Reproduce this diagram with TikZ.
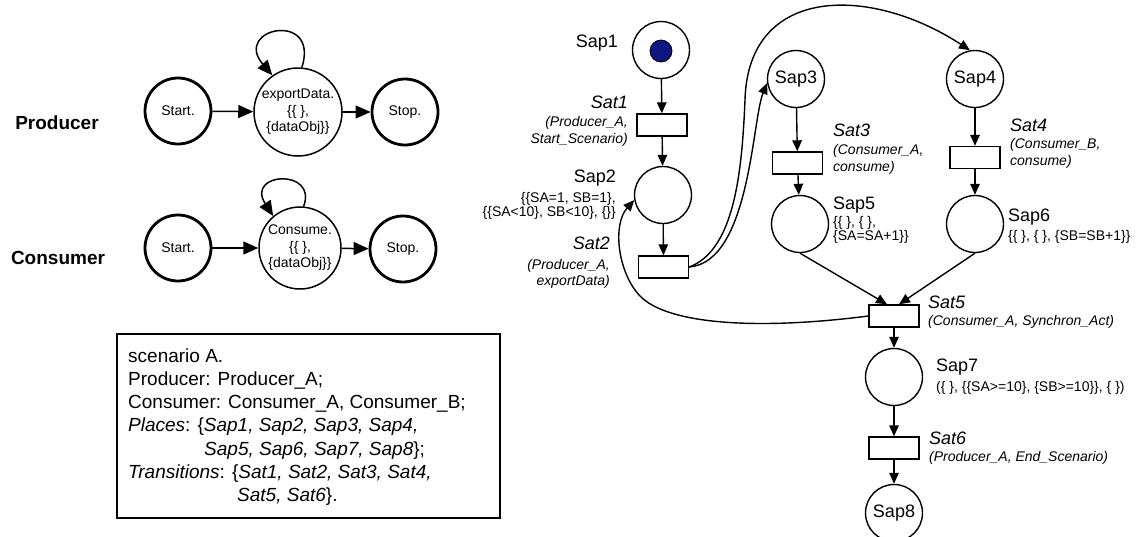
\documentclass[tikz,border=0pt]{standalone}
\usepackage{fontspec}
\setmainfont{Liberation Sans}
\usetikzlibrary{arrows.meta}
\newcommand{\fsz}[2]{\fontsize{#1pt}{#2pt}\selectfont}
\definecolor{tokenblue}{RGB}{14,22,130}
\tikzset{
  arr/.style={-{Triangle[length=11pt,width=9.5pt]}, line width=1.4pt},
  bigarr/.style={-{Triangle[length=15pt,width=13pt]}, line width=1.5pt},
  place/.style={circle, draw, line width=1.4pt, minimum size=57pt, inner sep=0pt, font=\fsz{18}{21}},
  trans/.style={rectangle, draw, line width=1.4pt, minimum width=50pt, minimum height=22pt, inner sep=0pt},
  tokenstyle/.style={circle, draw, fill=tokenblue, line width=0.8pt, minimum size=22pt, inner sep=0pt},
  thickstate/.style={circle, draw, line width=2.8pt, minimum size=66pt, inner sep=0pt, font=\fsz{14}{16}},
  midstate/.style={circle, draw, line width=1.5pt, inner sep=0pt, align=center, font=\fsz{14}{16.5}},
  rolelbl/.style={inner sep=0pt, font=\bfseries\fsz{19}{22}},
  lbl/.style={inner sep=0pt, font=\fsz{18}{21}},
  lbli/.style={inner sep=0pt, font=\itshape\fsz{18}{21}},
  cond/.style={inner sep=0pt, font=\fsz{14}{14}},
  condi/.style={inner sep=0pt, font=\itshape\fsz{14}{16.5}},
  boxtxt/.style={inner sep=0pt, align=left, font=\fsz{19}{23.3}}
}
\begin{document}
\begin{tikzpicture}[x=1pt,y=-1pt]
\useasboundingbox (0,0) rectangle (1136,536);

% ---------- left: producer / consumer automata ----------
\node[rolelbl] (prodlbl) at (57,123) {Producer};
\node[rolelbl] (conslbl) at (58,258) {Consumer};

\node[thickstate] (pstart) at (178,111) {Start.};
\node[midstate, minimum size=88pt] (pexp) at (298,112) {exportData.\\\{\{ \},\\\{dataObj\}\}};
\node[thickstate] (pstop) at (405,112) {Stop.};
\draw[bigarr] (pstart) -- (pexp);
\draw[bigarr] (pexp) -- (pstop);
\draw[bigarr] (pexp.85) .. controls (320,10) and (232,28) .. (pexp.125);

\node[thickstate] (cstart) at (178,248) {Start.};
\node[midstate, minimum size=82pt] (ccons) at (300,248) {Consume.\\\{\{ \},\\\{dataObj\}\}};
\node[thickstate] (cstop) at (403,249) {Stop.};
\draw[bigarr] (cstart) -- (ccons);
\draw[bigarr] (ccons) -- (cstop);
\draw[bigarr] (ccons.85) .. controls (318,168) and (245,172) .. (ccons.130);

% ---------- scenario box ----------
\draw[line width=1.6pt] (117,334) rectangle (500,518);
\node[boxtxt, anchor=west] (scen) at (128,427) {scenario A.\\
Producer: Producer\_A;\\
Consumer: Consumer\_A, Consumer\_B;\\
\textit{Places}: \{\textit{Sap1, Sap2, Sap3, Sap4,}\\
\hspace*{76pt}\textit{Sap5, Sap6, Sap7, Sap8}\};\\
\textit{Transitions}: \{\textit{Sat1, Sat2, Sat3, Sat4,}\\
\hspace*{109pt}\textit{Sat5, Sat6}\}.};

% ---------- Petri net ----------
\node[place] (sap1) at (661,50) {};
\node[tokenstyle] (tok) at (661,51) {};
\node[trans] (sat1) at (662,125) {};
\node[place] (sap2) at (663,195) {};
\node[trans] (sat2) at (663.5,267) {};
\node[place] (sap3) at (796,79) {Sap3};
\node[trans] (sat3) at (797.5,163) {};
\node[place] (sap5) at (800,224) {};
\node[place] (sap4) at (975,79) {Sap4};
\node[trans] (sat4) at (975,157.5) {};
\node[place] (sap6) at (975,224) {};
\node[trans] (sat5) at (894,316) {};
\node[place] (sap7) at (894,377) {};
\node[trans] (sat6) at (894,448) {};
\node[place] (sap8) at (894,513) {Sap8};

\draw[arr] (sap1) -- (sat1);
\draw[arr] (sat1) -- (sap2);
\draw[arr] (sap2) -- (sat2);
\draw[arr] (sap3) -- (sat3);
\draw[arr] (sat3) -- (sap5);
\draw[arr] (sap4) -- (sat4);
\draw[arr] (sat4) -- (sap6);
\draw[arr] (sap5.south) -- ([xshift=-7pt]sat5.north);
\draw[arr] (sap6.south) -- ([xshift=5pt]sat5.north);
\draw[arr] (sat5) -- (sap7);
\draw[arr] (sap7) -- (sat6);
\draw[arr] (sat6) -- (sap8);

\coordinate (via4) at (745,100);
\coordinate (via2) at (640,296);
\draw[arr] (sat2.east) .. controls (750,262) and (752,120) .. (sap3.188);
\draw[arr] (sat2.east) .. controls (735,250) and (742,170) .. (via4) .. controls (748,-15) and (870,-15) .. (sap4.100);
\draw[arr] (sat5.west) .. controls (760,330) and (668,325) .. (via2) .. controls (618,273) and (612,225) .. (sap2.190);

% labels
\node[lbl, anchor=east] (tsap1) at (618,43) {Sap1};
\node[lbli, anchor=east] (tsat1) at (628,102) {Sat1};
\node[condi, anchor=east, align=right] (csat1) at (628,131.5) {(Producer\_A,\\Start\_Scenario)};
\node[lbl, anchor=east] (tsap2) at (616,178) {Sap2};
\node[cond, anchor=east, align=right] (csap2) at (616,206) {\{\{SA=1, SB=1\},\\\{\{SA<10\}, SB<10\}, \{\}\}};
\node[lbli, anchor=east] (tsat2) at (610,243) {Sat2};
\node[condi, anchor=east, align=right] (csat2) at (610,274) {(Producer\_A,\\exportData)};
\node[lbli, anchor=west] (tsat3) at (833,130) {Sat3};
\node[condi, anchor=west, align=left] (csat3) at (833,159.5) {(Consumer\_A,\\consume)};
\node[lbli, anchor=west] (tsat4) at (1010,125) {Sat4};
\node[condi, anchor=west, align=left] (csat4) at (1010,153.5) {(Consumer\_B,\\consume)};
\node[lbl, anchor=west] (tsap5) at (833,205) {Sap5};
\node[cond, anchor=west, align=left] (csap5) at (833,230) {\{\{ \}, \{ \},\\\{SA=SA+1\}\}};
\node[lbl, anchor=west] (tsap6) at (1008,217) {Sap6};
\node[cond, anchor=west] (csap6) at (1008,237) {\{\{ \}, \{ \}, \{SB=SB+1\}\}};
\node[lbli, anchor=west] (tsat5) at (928,302) {Sat5};
\node[condi, anchor=west] (csat5) at (928,322) {(Consumer\_A, Synchron\_Act)};
\node[lbl, anchor=west] (tsap7) at (936,367) {Sap7};
\node[cond, anchor=west] (csap7) at (936,388) {(\{ \}, \{\{SA>=10\}, \{SB>=10\}\}, \{ \})};
\node[lbli, anchor=west] (tsat6) at (929,438) {Sat6};
\node[condi, anchor=west] (csat6) at (929,458) {(Producer\_A, End\_Scenario)};
\end{tikzpicture}
\end{document}
